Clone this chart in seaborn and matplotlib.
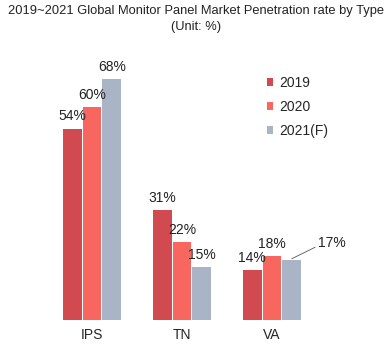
import matplotlib
matplotlib.use("Agg")
import matplotlib.pyplot as plt
import seaborn as sns
import pandas as pd

# values (%)
panel_types = ["IPS", "TN", "VA"]
years = ["2019", "2020", "2021(F)"]
share_2019 = [54, 31, 14]
share_2020 = [60, 22, 18]
share_2021 = [68, 15, 17]
colors = ["#D04A50", "#F7675F", "#A9B5C7"]

df = pd.DataFrame({
    "type": panel_types * 3,
    "year": [y for y in years for _ in panel_types],
    "share": share_2019 + share_2020 + share_2021,
})

sns.set_theme(style="white")
plt.rcParams["font.family"] = ["Liberation Sans", "DejaVu Sans"]

fig = plt.figure(figsize=(3.92, 3.6), dpi=100)
ax = fig.add_axes([20 / 392, 40 / 360, 360 / 392, 270 / 360])

sns.barplot(data=df, x="type", y="share", hue="year", palette=colors,
            width=0.66, gap=0.06, ax=ax, saturation=1, edgecolor="none")

ax.set_xlim(-0.8, 3.2)
ax.set_ylim(0, 76.2)
sns.despine(ax=ax, left=True, bottom=True)
ax.set_yticks([])
ax.set_xlabel("")
ax.set_ylabel("")
ax.tick_params(axis="x", length=0, labelsize=10, pad=6)

for cont in ax.containers:
    for bar in cont:
        h = bar.get_height()
        cx = bar.get_x() + bar.get_width() / 2
        if abs(h - 17) < 0.01 and cx > 2:
            # VA 2021 label sits to the right with a leader line
            ax.annotate(f"{h:.0f}%", xy=(cx, h + 0.3), xytext=(cx + 0.45, h + 2.8),
                        ha="center", va="bottom", fontsize=10, color="#222222",
                        arrowprops=dict(arrowstyle="-", color="#555555", lw=0.6,
                                        shrinkA=0, shrinkB=0,
                                        relpos=(0.0, 0.3)))
        else:
            ax.text(cx, h + 1.5, f"{h:.0f}%", ha="center", va="bottom",
                    fontsize=10, color="#222222")

ax.legend(loc="upper left", bbox_to_anchor=(0.65, 0.95), frameon=False,
          fontsize=10, handlelength=0.5, handleheight=0.5, handletextpad=0.4,
          labelspacing=0.72)

fig.text(0.5, 0.985, "2019~2021 Global Monitor Panel Market Penetration rate by Type\n(Unit: %)",
         ha="center", va="top", fontsize=9.3, color="#222222", linespacing=1.4)

fig.savefig("out.png", dpi=100)
